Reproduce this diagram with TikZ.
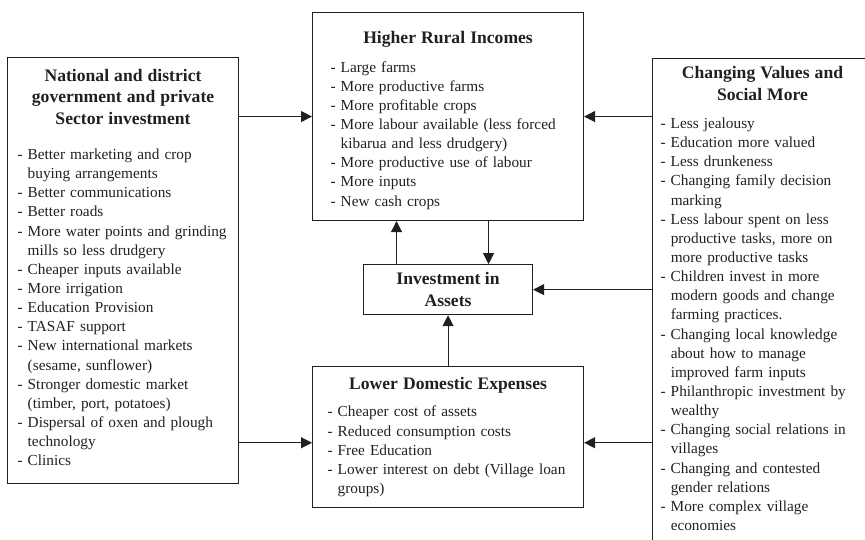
\documentclass[tikz,border=0pt]{standalone}
\usepackage{fontspec}
\setmainfont{Liberation Serif}
\usetikzlibrary{arrows.meta, positioning}
\definecolor{cInk}{RGB}{35,31,32}

\newcommand{\titlefont}{\fontsize{17.6}{21.5}\selectfont\bfseries}
\newcommand{\boxhead}[2][8pt]{{\centering\titlefont #2\par}\vspace{#1}}
\newcommand{\cont}{\hphantom{-\ }}

\tikzset{
  basebox/.style={rectangle, draw=cInk, line width=1.1pt, inner sep=0pt,
                  text=cInk, font=\fontsize{15.3}{19.15}\selectfont},
  listbox/.style={basebox,
                  execute at begin node={\raggedright\rightskip=-20pt plus 1fil}},
  assetbox/.style={basebox, align=center, font=\titlefont,
                   minimum width=169pt, minimum height=50pt},
  arrow/.style={-{Triangle[length=11pt,width=11pt]}, line width=1.1pt,
                draw=cInk, fill=cInk}
}

\begin{document}
\begin{tikzpicture}[x=1pt, y=-1pt]
  \clip[use as bounding box] (0,0) rectangle (865,540);

  % Higher rural incomes
  \node[listbox, anchor=north west, minimum width=271pt,
        minimum height=208pt, text width=235pt] (incomes) at (312,12)
      {\boxhead[9pt]{Higher Rural Incomes}
       - Large farms\\
       - More productive farms\\
       - More profitable crops\\
       - More labour available (less forced\\
       \cont kibarua and less drudgery)\\
       - More productive use of labour\\
       - More inputs\\
       - New cash crops\par\vspace{-8pt}};

  % Investment in assets
  \node[assetbox, below=43pt of incomes] (invest)
      {Investment in\\Assets};

  % Lower domestic expenses
  \node[listbox, below=51pt of invest, minimum width=271pt,
        minimum height=141pt, text width=241pt] (lower)
      {\boxhead[8pt]{Lower Domestic Expenses}
       - Cheaper cost of assets\\
       - Reduced consumption costs\\
       - Free Education\\
       - Lower interest on debt (Village loan\\
       \cont groups)};

  % Government and private sector
  \node[listbox, anchor=north west, minimum width=231pt,
        minimum height=426pt, text width=211pt] (govt) at (7,57)
      {\boxhead[16pt]{National and district\\government and private\\Sector investment}
       - Better marketing and crop\\
       \cont buying arrangements\\
       - Better communications\\
       - Better roads\\
       - More water points and grinding\\
       \cont mills so less drudgery\\
       - Cheaper inputs available\\
       - More irrigation\\
       - Education Provision\\
       - TASAF support\\
       - New international markets\\
       \cont(sesame, sunflower)\\
       - Stronger domestic market\\
       \cont(timber, port, potatoes)\\
       - Dispersal of oxen and plough\\
       \cont technology\\
       - Clinics\par\vspace{6pt}};

  % Values and social mores (runs off the page)
  \node[listbox, anchor=north west, minimum width=220pt,
        inner ysep=8pt, text width=204pt] (values) at (652,58)
      {\boxhead[9pt]{Changing Values and\\Social More}
       - Less jealousy\\
       - Education more valued\\
       - Less drunkeness\\
       - Changing family decision\\
       \cont marking\\
       - Less labour spent on less\\
       \cont productive tasks, more on\\
       \cont more productive tasks\\
       - Children invest in more\\
       \cont modern goods and change\\
       \cont farming practices.\\
       - Changing local knowledge\\
       \cont about how to manage\\
       \cont improved farm inputs\\
       - Philanthropic investment by\\
       \cont wealthy\\
       - Changing social relations in\\
       \cont villages\\
       - Changing and contested\\
       \cont gender relations\\
       - More complex village\\
       \cont economies\par\vspace{24pt}};

  % Arrows
  \coordinate (lowerL) at ([yshift=-5.5pt]lower.west);
  \coordinate (lowerR) at ([yshift=-5.5pt]lower.east);
  \coordinate (upA) at ([xshift=-51.5pt]invest.north);
  \coordinate (downA) at ([xshift=40.5pt]invest.north);

  \draw[arrow] (govt.east |- incomes.west) -- (incomes.west);
  \draw[arrow] (govt.east |- lowerL) -- (lowerL);
  \draw[arrow] (values.west |- incomes.east) -- (incomes.east);
  \draw[arrow] (values.west |- invest.east) -- (invest.east);
  \draw[arrow] (values.west |- lowerR) -- (lowerR);
  \draw[arrow] (upA) -- (upA |- incomes.south);
  \draw[arrow] (downA |- incomes.south) -- (downA);
  \draw[arrow] (lower.north) -- (invest.south);

\end{tikzpicture}
\end{document}
